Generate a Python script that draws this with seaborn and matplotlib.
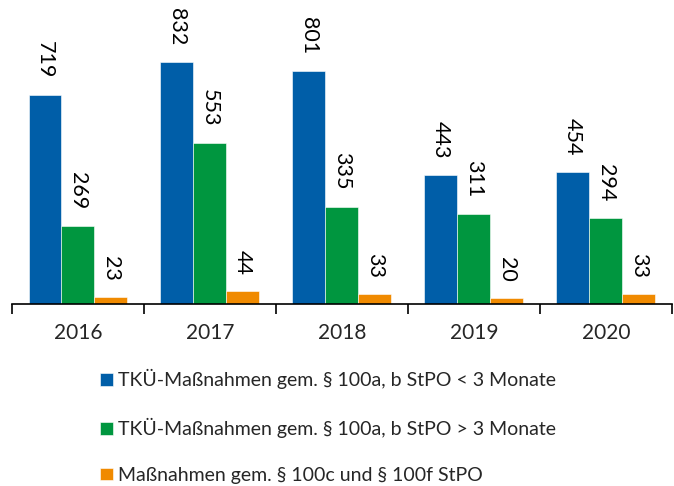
import matplotlib
matplotlib.use("Agg")
import matplotlib.pyplot as plt
import seaborn as sns
import pandas as pd

# Data
years = ["2016", "2017", "2018", "2019", "2020"]
series = [
    "TKÜ-Maßnahmen gem. § 100a, b StPO < 3 Monate",
    "TKÜ-Maßnahmen gem. § 100a, b StPO > 3 Monate",
    "Maßnahmen gem. § 100c und § 100f StPO",
]
under_3_months = [719, 832, 801, 443, 454]
over_3_months = [269, 553, 335, 311, 294]
para_100c_f = [23, 44, 33, 20, 33]
colors = ["#005EA8", "#00963F", "#F08A00"]

df = pd.DataFrame({
    "year": years * 3,
    "series": [series[0]] * 5 + [series[1]] * 5 + [series[2]] * 5,
    "value": under_3_months + over_3_months + para_100c_f,
})

sns.set_style("white")
plt.rcParams["font.family"] = ["Lato", "DejaVu Sans"]

fig = plt.figure(figsize=(6.74, 4.86), dpi=100)
ax = fig.add_axes([12 / 674, 1 - 304 / 486, 660 / 674, 304 / 486])

sns.barplot(
    df, x="year", y="value", hue="series", palette=colors,
    width=0.75, order=years, hue_order=series, ax=ax,
    edgecolor="white", linewidth=0.4, saturation=1,
)

for container in ax.containers:
    ax.bar_label(container, rotation=270, padding=12, fontsize=15.5, color="black")

handles, labels = ax.get_legend_handles_labels()
ax.get_legend().remove()

ax.set_xlim(-0.5, 4.5)
ax.set_ylim(0, 1045)
ax.set_xlabel("")
ax.set_ylabel("")
ax.set_yticks([])
for side in ["left", "right", "top"]:
    ax.spines[side].set_visible(False)
ax.spines["bottom"].set_color("black")
ax.spines["bottom"].set_linewidth(1.2)

# Category labels at centres, tick marks between groups
ax.set_xticks(range(len(years)))
ax.set_xticklabels(years, fontsize=15)
ax.tick_params(axis="x", which="major", length=0, pad=14)
ax.set_xticks([i - 0.5 for i in range(len(years) + 1)], minor=True)
ax.tick_params(axis="x", which="minor", bottom=True, length=7, width=1.2,
               color="black", direction="out")

fig.legend(
    handles, labels, loc="upper left", bbox_to_anchor=(100 / 674, 1 - 369 / 486),
    frameon=False, fontsize=14, handlelength=0.65, handleheight=0.65,
    handletextpad=0.3, labelspacing=1.48, borderpad=0, borderaxespad=0,
)

fig.savefig("out.png", dpi=100)
